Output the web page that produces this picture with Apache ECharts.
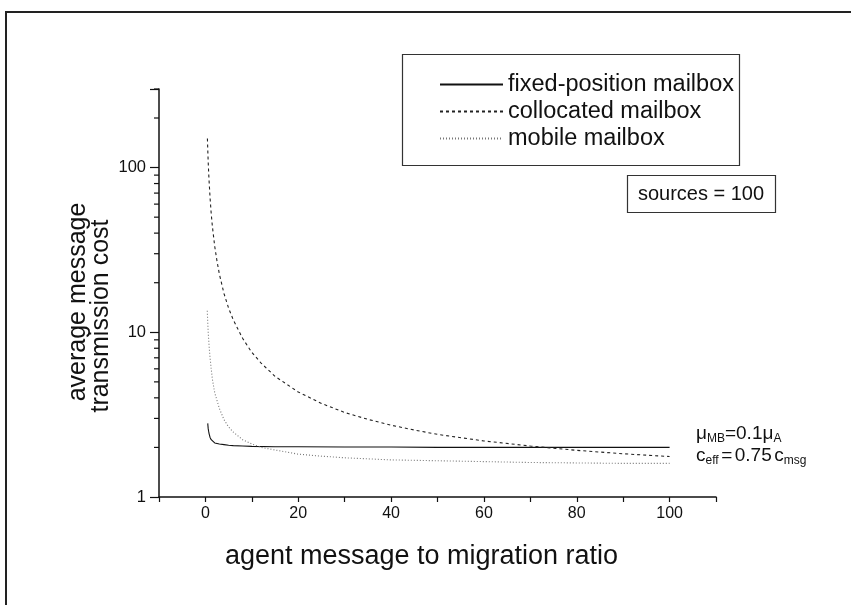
<!DOCTYPE html>
<html>
<head>
<meta charset="utf-8">
<script src="https://cdn.jsdelivr.net/npm/echarts@6/dist/echarts.min.js"></script>
<style>
html,body{margin:0;padding:0;background:#fff;}
#chart{width:851px;height:605px;}
</style>
</head>
<body>
<div id="chart"></div>
<script>
// ---- data ----
const seriesNames = ['fixed-position mailbox', 'collocated mailbox', 'mobile mailbox'];

const fixedX = [0.5, 0.6, 0.7, 0.8, 1, 1.25, 1.5, 2, 3, 4, 5, 6, 8, 10, 15, 20, 30, 40, 50, 60, 70, 80, 90, 100];
const fixedY = [2.8, 2.6, 2.5, 2.42, 2.3, 2.23, 2.18, 2.13, 2.1, 2.08, 2.06, 2.05, 2.04, 2.03, 2.02, 2.02, 2.01, 2.01, 2.0, 2.0, 2.0, 2.0, 2.0, 2.0];

const collocX = [0.43, 0.5, 0.6, 0.7, 0.8, 1, 1.25, 1.5, 2, 2.5, 3, 4, 5, 6, 8, 10, 12, 15, 20, 25, 30, 35, 40, 45, 50, 60, 70, 80, 90, 100];
const collocY = [150, 130, 108, 93, 82, 65.5, 52.5, 44, 33.3, 27, 22.6, 17.2, 14, 11.9, 9.2, 7.55, 6.5, 5.4, 4.34, 3.7, 3.26, 2.96, 2.73, 2.55, 2.4, 2.19, 2.04, 1.92, 1.83, 1.76];

const mobileX = [0.4, 0.5, 0.6, 0.8, 1, 1.25, 1.5, 2, 2.5, 3, 4, 5, 6, 8, 10, 12, 15, 20, 25, 30, 40, 50, 60, 70, 80, 90, 100];
const mobileY = [13.5, 11.5, 10, 8.2, 7, 6.0, 5.2, 4.3, 3.85, 3.45, 2.95, 2.66, 2.48, 2.23, 2.1, 2.0, 1.93, 1.82, 1.77, 1.73, 1.68, 1.66, 1.64, 1.62, 1.61, 1.6, 1.6];

const xTickLabels = [0, 20, 40, 60, 80, 100];
const yTickLabels = [1, 10, 100];
const yMinorTicks = [2, 3, 4, 5, 6, 7, 8, 9, 20, 30, 40, 50, 60, 70, 80, 90, 200, 300];
const yTitleLines = ['average message', 'transmission cost'];

// ---- build ----
const zip = (xs, ys) => xs.map((x, i) => [x, ys[i]]);
const FONT = '"Liberation Sans", Arial, Helvetica, sans-serif';
const X_MIN = -10, X_MAX = 110;

const chart = echarts.init(document.getElementById('chart'), null, {renderer: 'canvas'});

const richAnno = {
  a: {fontSize: 19, fontFamily: FONT, lineHeight: 22, fill: '#111'},
  sp: {fontSize: 9, fontFamily: FONT, lineHeight: 22, fill: '#111'},
  s: {fontSize: 12, fontFamily: FONT, lineHeight: 12, verticalAlign: 'bottom', fill: '#111'}
};

const option = {
  backgroundColor: '#fff',
  animation: false,
  textStyle: {fontFamily: FONT},
  grid: {left: 159, right: 135, top: 89, bottom: 108, containLabel: false},
  xAxis: {
    type: 'value', min: X_MIN, max: X_MAX, interval: 10,
    name: 'agent message to migration ratio',
    nameLocation: 'middle', nameGap: 46,
    nameTextStyle: {fontSize: 27, color: '#111', fontFamily: FONT, padding: [0, 32, 0, 0]},
    axisLine: {onZero: false, lineStyle: {color: '#111', width: 1.5}},
    axisTick: {show: true, inside: false, length: 5, lineStyle: {color: '#111', width: 1.2}},
    axisLabel: {
      fontSize: 16, color: '#111', margin: 9, fontFamily: FONT,
      formatter: v => xTickLabels.indexOf(Math.round(v)) >= 0 && Math.abs(v - Math.round(v)) < 1e-6 ? String(Math.round(v)) : ''
    },
    splitLine: {show: false}
  },
  yAxis: {
    type: 'log', logBase: 10, min: 1, max: 300, interval: 1,
    axisLine: {onZero: false, lineStyle: {color: '#111', width: 1.5}},
    axisTick: {show: true, inside: false, length: 9, lineStyle: {color: '#111', width: 1.2}},
    axisLabel: {
      fontSize: 16.5, color: '#111', margin: 13, fontFamily: FONT,
      formatter: v => {
        const r = yTickLabels.find(t => Math.abs(v - t) / t < 1e-6);
        return r !== undefined ? String(r) : '';
      }
    },
    splitLine: {show: false}
  },
  legend: {
    data: seriesNames,
    orient: 'vertical', left: 439, top: 71, padding: 0,
    itemWidth: 63, itemHeight: 14, itemGap: 0,
    itemStyle: {opacity: 0},
    textStyle: {fontSize: 23.5, color: '#111', lineHeight: 27, fontFamily: FONT},
    selectedMode: false
  },
  series: [
    {
      name: seriesNames[0], type: 'line', data: zip(fixedX, fixedY),
      showSymbol: false, symbol: 'none', smooth: false,
      lineStyle: {color: '#111', width: 1.1, type: 'solid'}, itemStyle: {color: '#111'}
    },
    {
      name: seriesNames[1], type: 'line', data: zip(collocX, collocY),
      showSymbol: false, symbol: 'none', smooth: false,
      lineStyle: {color: '#222', width: 1.1, type: [3, 3]}, itemStyle: {color: '#222'}
    },
    {
      name: seriesNames[2], type: 'line', data: zip(mobileX, mobileY),
      showSymbol: false, symbol: 'none', smooth: false,
      lineStyle: {color: '#777', width: 1.1, type: [1, 2]}, itemStyle: {color: '#777'}
    },
    {
      name: 'yMinor', type: 'custom', silent: true, clip: false,
      data: yMinorTicks.map(v => [X_MIN, v]),
      renderItem: (params, api) => {
        const p = api.coord([api.value(0), api.value(1)]);
        return {type: 'line', shape: {x1: p[0] - 5, y1: p[1], x2: p[0], y2: p[1]},
                style: {stroke: '#111', lineWidth: 1.2}};
      }
    }
  ],
  graphic: [
    {type: 'rect', shape: {x: 6, y: 12, width: 900, height: 700},
     style: {fill: 'none', stroke: '#222', lineWidth: 2}, silent: true},
    {type: 'rect', shape: {x: 402.5, y: 54.5, width: 337, height: 111},
     style: {fill: 'none', stroke: '#333', lineWidth: 1.2}, silent: true},
    {type: 'rect', shape: {x: 627.5, y: 175.5, width: 148, height: 37},
     style: {fill: 'none', stroke: '#333', lineWidth: 1.2}, silent: true},
    {type: 'text', x: 701, y: 194,
     style: {text: 'sources = 100', font: '20px ' + FONT, fill: '#111', align: 'center', verticalAlign: 'middle'}},
    {type: 'text', x: 78, y: 302, rotation: Math.PI / 2,
     style: {text: yTitleLines[0], font: '25px ' + FONT, fill: '#111', align: 'center', verticalAlign: 'middle'}},
    {type: 'text', x: 101, y: 316, rotation: Math.PI / 2,
     style: {text: yTitleLines[1], font: '25px ' + FONT, fill: '#111', align: 'center', verticalAlign: 'middle'}},
    {type: 'text', x: 696, y: 434,
     style: {text: '{a|μ}{s|MB}{a|=0.1μ}{s|A}', align: 'left', verticalAlign: 'middle', rich: richAnno}},
    {type: 'text', x: 696, y: 456,
     style: {text: '{a|c}{s|eff}{sp| }{a|=}{sp| }{a|0.75}{sp| }{a|c}{s|msg}', align: 'left', verticalAlign: 'middle', rich: richAnno}}
  ]
};
chart.setOption(option);
</script>
</body>
</html>
